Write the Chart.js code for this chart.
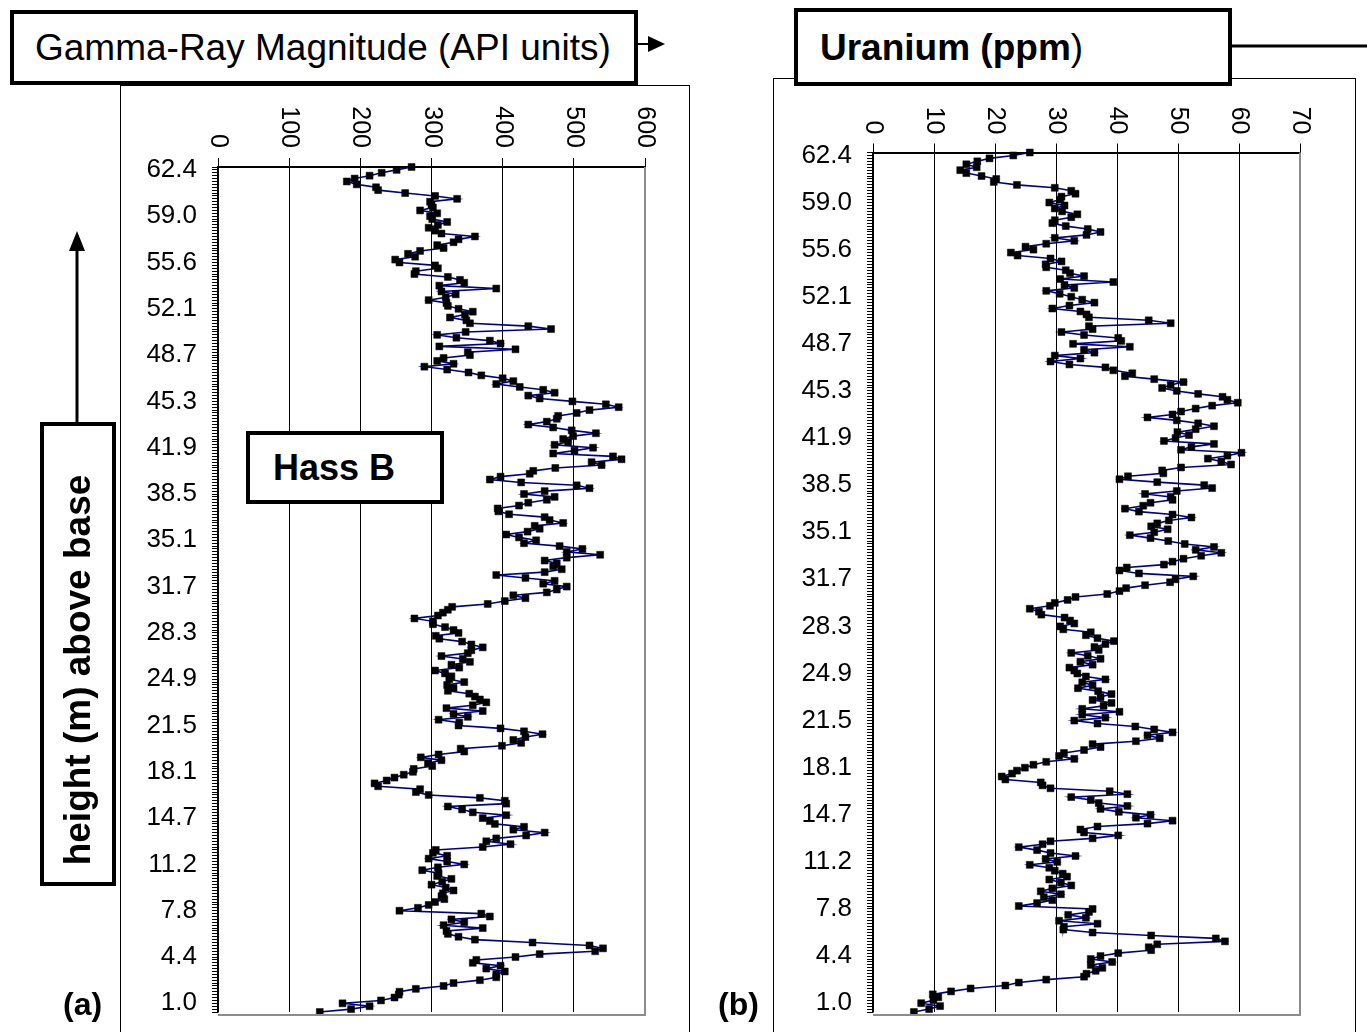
<!DOCTYPE html>
<html><head><meta charset="utf-8">
<script src="https://cdn.jsdelivr.net/npm/chart.js@4/dist/chart.umd.min.js"></script>
<style>
html,body{margin:0;padding:0;background:#fff;}
body{width:1367px;height:1032px;overflow:hidden;position:relative;font-family:"Liberation Sans",Arial,sans-serif;}
.frame{position:absolute;border:1px solid #000;border-bottom:none;box-sizing:border-box;}
.wrap{position:absolute;}
.box{position:absolute;border:4px solid #000;background:#fff;box-sizing:border-box;color:#000;white-space:nowrap;}
.lbl{position:absolute;font-weight:bold;font-size:32px;color:#000;}
svg{position:absolute;left:0;top:0;}
</style></head><body>
<div class="frame" style="left:120px;top:85px;width:570px;height:960px;"></div>
<div class="frame" style="left:773px;top:78px;width:583px;height:960px;"></div>
<div class="wrap" style="left:120px;top:85px;width:570px;height:947px;"><canvas id="ca"></canvas></div>
<div class="wrap" style="left:773px;top:78px;width:583px;height:954px;"><canvas id="cb"></canvas></div>

<svg width="1367" height="1032">
  <line x1="636" y1="44" x2="650" y2="44" stroke="#000" stroke-width="2"/>
  <polygon points="648,36 665,44 648,52" fill="#000"/>
  <line x1="1230" y1="46" x2="1367" y2="46" stroke="#000" stroke-width="3"/>
  <line x1="77" y1="424" x2="77" y2="248" stroke="#000" stroke-width="3"/>
  <polygon points="69,251 77,231 85,251" fill="#000"/>
</svg>

<div class="box" style="left:10px;top:10px;width:628px;height:75px;font-size:37px;line-height:67px;padding-left:21px;">Gamma-Ray Magnitude (API units)</div>
<div class="box" style="left:794px;top:8px;width:438px;height:78px;font-size:37px;line-height:72px;padding-left:22px;"><b>Uranium (ppm</b>)</div>
<div class="box" style="left:246px;top:431px;width:198px;height:73px;font-size:36px;line-height:65px;padding-left:23px;font-weight:bold;">Hass B</div>
<div class="box" style="left:40px;top:422px;width:76px;height:464px;"></div>
<div style="position:absolute;left:78px;top:670px;transform:translate(-50%,-50%) rotate(-90deg);font-weight:bold;font-size:37px;white-space:nowrap;color:#000;">height (m) above base</div>
<div class="lbl" style="left:63px;top:986px;">(a)</div>
<div class="lbl" style="left:718px;top:986px;">(b)</div>

<script>
// Height tick labels (every 16th sample, top to bottom)
const heightTicks = ['62.4','59.0','55.6','52.1','48.7','45.3','41.9','38.5','35.1','31.7','28.3','24.9','21.5','18.1','14.7','11.2','7.8','4.4','1.0'];
// Value-axis tick labels
const gammaTicks = ['0','100','200','300','400','500','600'];
const uraniumTicks = ['0','10','20','30','40','50','60','70'];

// Gamma-ray magnitude (API units), samples from top (62.6 m) to base
const gammaRay = [
272,251,230,213,192,181,195,222,225,263,305,336,298,300,302,284,308,298,301,322,309,296,305,314,361,338,331,308,317,284,267,277,249,255,305,309,278,276,323,340,346,311,391,314,334,320,
296,321,323,338,358,347,326,349,354,436,468,348,308,335,382,397,311,418,351,354,317,308,331,290,322,352,370,400,415,391,424,457,473,436,452,498,545,563,522,504,478,476,462,436,471,497,531,499,485,492,
473,527,501,471,555,567,525,539,474,443,438,397,382,426,504,522,459,430,473,462,436,423,393,394,409,459,466,485,445,452,435,405,423,447,430,480,512,490,537,490,459,476,471,483,459,391,432,473,457,490,476,
462,415,432,403,379,329,323,316,309,276,302,302,319,331,338,306,311,343,356,372,356,351,314,344,354,328,339,305,319,328,325,346,322,331,323,353,361,368,377,358,321,372,331,351,310,339,338,397,430,456,
432,415,426,399,341,346,310,285,314,295,301,275,274,261,248,237,220,225,284,278,296,368,403,405,323,343,358,405,372,382,389,430,415,459,433,391,377,411,372,306,302,322,296,322,346,309,287,310,308,328,
315,300,320,331,316,314,318,305,296,281,255,370,382,328,346,317,372,321,323,338,361,442,522,541,530,452,418,363,358,397,377,403,391,391,368,331,317,278,255,254,248,229,175,213,187,143
];

// Uranium (ppm), same samples
const uranium = [
25.7,23.0,19.1,17.1,15.3,17.0,14.3,15.3,17.8,20.2,19.8,23.6,29.8,32.5,33.2,30.9,30.7,28.9,31.4,29.8,31.0,33.5,32.5,29.8,29.4,31.6,35.2,37.3,35.0,29.8,33.0,28.4,25.0,26.3,22.6,23.7,29.1,30.9,28.3,28.4,31.6,32.3,34.6,30.7,39.4,31.4,33.0,
28.4,30.6,32.5,34.3,36.3,32.2,29.4,34.0,35.0,35.4,45.2,48.8,35.4,36.0,30.9,34.6,40.2,40.7,32.8,42.1,34.6,36.3,29.8,34.0,29.1,32.2,38.1,39.4,42.5,41.3,46.1,50.9,48.8,47.4,49.8,53.3,57.3,58.1,59.8,55.6,52.9,50.5,49.1,45.0,49.8,53.3,55.9,52.9,49.9,
51.8,49.6,47.7,55.9,52.2,50.5,60.4,58.1,54.9,57.1,58.7,50.5,47.4,47.6,41.8,40.4,46.6,54.3,55.6,49.8,44.6,48.8,49.1,45.5,44.3,41.3,43.6,49.1,52.2,48.5,46.6,45.6,48.3,46.1,42.1,45.5,48.4,51.1,55.9,52.9,57.1,53.8,50.9,49.1,47.7,41.6,40.4,43.6,52.5,49.6,
48.7,44.6,41.5,40.4,38.4,33.2,31.9,29.8,29.0,25.7,27.2,27.6,31.4,32.3,33.0,30.7,31.2,35.7,34.9,36.8,39.5,38.1,36.3,37.0,32.5,35.2,37.3,34.0,36.0,32.2,33.0,33.5,34.9,38.1,34.3,36.0,33.6,36.9,39.1,37.3,36.0,39.1,37.8,34.3,40.4,34.3,38.1,33.0,36.8,
43.0,46.1,49.1,45.0,47.0,43.1,36.0,37.3,34.6,31.3,30.5,33.0,28.4,26.3,24.9,23.6,22.8,21.1,21.7,27.5,27.8,29.1,38.8,41.7,32.5,35.7,37.0,41.7,37.3,40.3,45.5,43.1,49.1,45.0,36.8,34.0,34.6,40.2,36.0,29.1,27.8,23.9,26.9,29.1,33.2,28.3,30.2,25.7,28.9,
29.8,31.1,31.8,28.9,30.8,32.5,29.4,27.5,30.8,28.0,29.4,26.9,23.9,36.0,35.4,32.0,34.9,30.5,36.8,31.3,31.2,36.0,45.6,56.2,57.7,46.6,45.2,45.6,40.2,37.3,35.7,39.2,35.7,37.6,36.5,35.0,34.6,28.4,23.9,21.7,16.0,12.8,9.8,10.7,9.9,7.9,11.0,9.2,6.7
];

// category table: one entry per sample, label on every 16th sample
const categories = gammaRay.map((_, i) => ((i - 1) % 16 === 0 && (i - 1) / 16 < heightTicks.length) ? heightTicks[(i - 1) / 16] : '');

const FONT = '"Liberation Sans", Arial, sans-serif';

const topLabels = {
  id: 'topLabels',
  afterDraw(chart, args, opts) {
    const ctx = chart.ctx, xs = chart.scales.x;
    ctx.save();
    ctx.font = '25px ' + FONT;
    ctx.fillStyle = '#000';
    ctx.textAlign = 'right';
    ctx.textBaseline = 'middle';
    xs.ticks.forEach((t, i) => {
      const x = xs.getPixelForValue(t.value);
      ctx.save();
      ctx.translate(x, xs.bottom - opts.gap);
      ctx.rotate(Math.PI / 2);
      ctx.fillText(opts.labels[i], 0, 0);
      ctx.restore();
    });
    // plot-area right and bottom border (grey)
    const a = chart.chartArea;
    ctx.strokeStyle = '#8c8c8c';
    ctx.lineWidth = 2;
    ctx.beginPath();
    ctx.moveTo(a.right, a.top);
    ctx.lineTo(a.right, a.bottom + 3);
    ctx.lineTo(a.left, a.bottom + 3);
    ctx.stroke();
    ctx.restore();
  }
};

function makeChart(id, values, maxV, step, tickLabels, pad, yW, xH, gap) {
  return new Chart(document.getElementById(id), {
    type: 'line',
    data: {
      labels: categories,
      datasets: [{
        data: values,
        borderColor: '#000080',
        borderWidth: 1.6,
        pointStyle: 'rect',
        pointRadius: 4.9,
        pointBackgroundColor: '#000',
        pointBorderColor: '#000',
        pointBorderWidth: 0.5,
        tension: 0,
        fill: false,
        clip: false
      }]
    },
    options: {
      indexAxis: 'y',
      animation: false,
      responsive: true,
      maintainAspectRatio: false,
      layout: { padding: pad },
      plugins: { legend: { display: false }, tooltip: { enabled: false }, topLabels: { labels: tickLabels, gap: gap } },
      scales: {
        x: {
          type: 'linear', position: 'top', min: 0, max: maxV,
          ticks: { display: false, stepSize: step },
          grid: { color: '#000', lineWidth: 1, tickLength: 9, drawTicks: true },
          border: { color: '#000', width: 2 },
          afterFit: s => { s.height = xH; s.paddingLeft = 0; s.paddingRight = 0; }
        },
        y: {
          type: 'category', position: 'left',
          ticks: {
            autoSkip: false, color: '#000', padding: 15,
            font: { family: FONT, size: 26 },
            callback: (v, i) => categories[i]
          },
          grid: { drawOnChartArea: false, tickLength: 6, color: '#000', lineWidth: 1 },
          border: { color: '#000', width: 1.5 },
          afterFit: s => { s.width = yW; s.paddingTop = 0; s.paddingBottom = 0; }
        }
      }
    },
    plugins: [topLabels]
  });
}

makeChart('ca', gammaRay, 600, 100, gammaTicks, { left: 0, top: 0, right: 45, bottom: 20 }, 98, 82, 19);
makeChart('cb', uranium, 70, 10, uraniumTicks, { left: 0, top: 0, right: 56, bottom: 20 }, 100, 74.5, 18);
</script>
</body></html>
